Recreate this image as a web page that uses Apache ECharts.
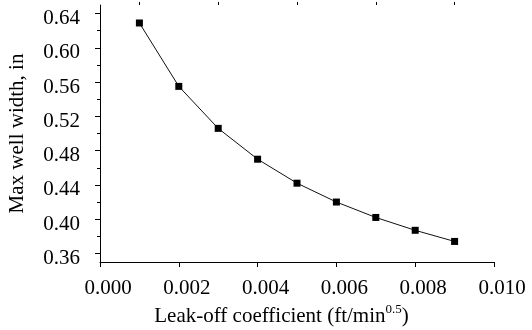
<!DOCTYPE html>
<html>
<head>
<meta charset="utf-8">
<script src="https://cdn.jsdelivr.net/npm/echarts@6/dist/echarts.min.js"></script>
<style>html,body{margin:0;padding:0;background:#fff}#c{width:532px;height:330px}</style>
</head>
<body>
<div id="c"></div>
<script>
var xValues = [0.001, 0.002, 0.003, 0.004, 0.005, 0.006, 0.007, 0.008, 0.009];
var widthValues = [0.629, 0.555, 0.506, 0.470, 0.442, 0.420, 0.402, 0.387, 0.374];
var xTickLabels = [0.000, 0.002, 0.004, 0.006, 0.008, 0.010];
var xMinorTicks = [0.001, 0.003, 0.005, 0.007, 0.009];
var yTickLabels = [0.36, 0.40, 0.44, 0.48, 0.52, 0.56, 0.60, 0.64];
var yMinorTicks = [0.38, 0.42, 0.46, 0.50, 0.54, 0.58, 0.62];

var font = 'Liberation Serif, Times New Roman, serif';
var chart = echarts.init(document.getElementById('c'));
var data = xValues.map(function (x, i) { return [x, widthValues[i]]; });

var xBase = {
  type: 'value', min: 0, max: 0.01, gridIndex: 0,
  splitLine: { show: false }
};
var yBase = {
  type: 'value', min: 0.35, max: 0.65, gridIndex: 0,
  splitLine: { show: false }
};

chart.setOption({
  animation: false,
  backgroundColor: '#fff',
  grid: { left: 100, right: 38, top: 5, bottom: 68, containLabel: false, outerBoundsMode: 'none' },
  xAxis: [
    Object.assign({}, xBase, {
      name: '{m|Leak-off coefficient (ft/min}{sup|0.5}{m|)}',
      nameLocation: 'middle',
      nameGap: 16,
      nameTextStyle: {
        fontFamily: font, fontSize: 21, color: '#000', padding: [0, 31, 0, 0],
        rich: {
          m: { fontFamily: font, fontSize: 21, color: '#000', lineHeight: 21, verticalAlign: 'bottom' },
          sup: { fontFamily: font, fontSize: 13, color: '#000', lineHeight: 13, verticalAlign: 'bottom', padding: [0, 0, 11, 0] }
        }
      },
      axisLine: { show: true, onZero: false, lineStyle: { color: '#000', width: 1 } },
      axisTick: { show: true, inside: false, length: 5, customValues: xTickLabels, lineStyle: { color: '#000' } },
      axisLabel: {
        show: true, customValues: xTickLabels, margin: 16, lineHeight: 20, verticalAlign: 'top',
        fontFamily: font, fontSize: 21, color: '#000', padding: [0, 0, 0, 16],
        formatter: function (v) { return v.toFixed(3); }
      }
    }),
    Object.assign({}, xBase, {
      axisLine: { show: false, onZero: false },
      axisTick: { show: true, inside: false, length: 3, customValues: xMinorTicks, lineStyle: { color: '#000' } },
      axisLabel: { show: false }
    })
  ],
  yAxis: [
    Object.assign({}, yBase, {
      name: 'Max well width, in',
      nameLocation: 'middle',
      nameGap: 72,
      nameRotate: 90,
      nameTextStyle: { fontFamily: font, fontSize: 21, color: '#000', padding: [0, 0, 0, 0] },
      axisLine: { show: true, onZero: false, lineStyle: { color: '#000', width: 1 } },
      axisTick: { show: true, inside: false, length: 5, customValues: yTickLabels, lineStyle: { color: '#000' } },
      axisLabel: {
        show: true, customValues: yTickLabels, margin: 20, verticalAlign: 'top', lineHeight: 10,
        fontFamily: font, fontSize: 21, color: '#000',
        formatter: function (v) { return v.toFixed(2); }
      }
    }),
    Object.assign({}, yBase, {
      position: 'left',
      axisLine: { show: false, onZero: false },
      axisTick: { show: true, inside: false, length: 3, customValues: yMinorTicks, lineStyle: { color: '#000' } },
      axisLabel: { show: false }
    })
  ],
  series: [{
    type: 'line',
    xAxisIndex: 0, yAxisIndex: 0,
    data: data,
    symbol: 'rect',
    symbolSize: 7,
    lineStyle: { color: '#111', width: 1 },
    itemStyle: { color: '#000' }
  }]
});
</script>
</body>
</html>
